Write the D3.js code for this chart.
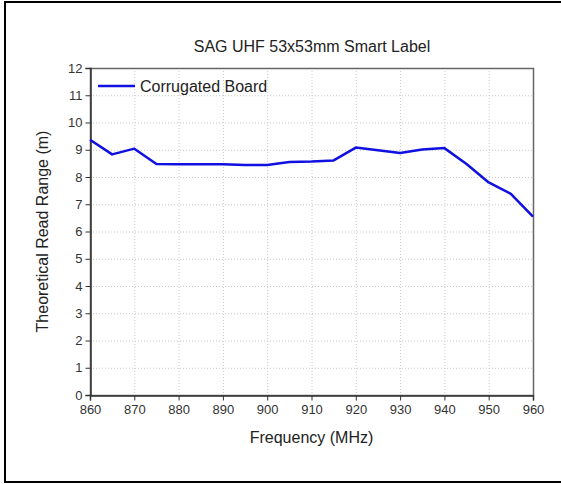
<!DOCTYPE html>
<html>
<head>
<meta charset="utf-8">
<script src="https://cdn.jsdelivr.net/npm/d3@7"></script>
<style>
  body { margin: 0; background: #fff; }
  svg { display: block; font-family: "Liberation Sans", Arial, sans-serif; }
</style>
</head>
<body>
<svg id="chart" width="561" height="484"></svg>
<script>
const frequencies = [860, 865, 870, 875, 880, 885, 890, 895, 900, 905, 910,
  915, 920, 925, 930, 935, 940, 945, 950, 955, 960];
const readRange = [9.37, 8.83, 9.04, 8.48, 8.47, 8.47, 8.47, 8.44, 8.44, 8.55, 8.57,
  8.61, 9.08, 8.98, 8.88, 9.01, 9.06, 8.48, 7.8, 7.38, 6.55];
const xTicks = [860, 870, 880, 890, 900, 910, 920, 930, 940, 950, 960];
const yTicks = [0, 1, 2, 3, 4, 5, 6, 7, 8, 9, 10, 11, 12];
const seriesName = "Corrugated Board";

const svg = d3.select("#chart");
const margin = { left: 90, right: 28, top: 68, bottom: 89 };
const width = 561, height = 484;

// outer frame (right edge is cropped in the original)
svg.append("path")
  .attr("d", "M565,2H5V482H565")
  .attr("fill", "none")
  .attr("stroke", "#000")
  .attr("stroke-width", 2);

const x = d3.scaleLinear().domain([860, 960]).range([margin.left, width - margin.right]);
const y = d3.scaleLinear().domain([0, 12]).range([height - margin.bottom, margin.top]);

// grid
const grid = svg.append("g").attr("stroke", "#c8c8c8").attr("stroke-dasharray", "1,2").attr("stroke-width", 1);
grid.selectAll("line.v").data(xTicks.slice(1, -1)).join("line")
  .attr("x1", d => x(d) + 0.5).attr("x2", d => x(d) + 0.5)
  .attr("y1", y(12)).attr("y2", y(0));
grid.selectAll("line.h").data(yTicks.slice(1, -1)).join("line")
  .attr("y1", d => y(d) + 0.5).attr("y2", d => y(d) + 0.5)
  .attr("x1", x(860)).attr("x2", x(960));

// plot box
svg.append("rect")
  .attr("x", x(860) + 0.5).attr("y", y(12) + 0.5)
  .attr("width", x(960) - x(860)).attr("height", y(0) - y(12))
  .attr("fill", "none").attr("stroke", "#666").attr("stroke-width", 1.5);

// axes
const xAxis = svg.append("g")
  .attr("transform", `translate(0,${y(0) + 0.5})`)
  .call(d3.axisBottom(x).tickValues(xTicks).tickSize(5).tickPadding(4));
const yAxis = svg.append("g")
  .attr("transform", `translate(${x(860) + 0.5},0)`)
  .call(d3.axisLeft(y).tickValues(yTicks).tickSize(5).tickPadding(3));

[xAxis, yAxis].forEach(g => {
  g.select(".domain").attr("stroke", "#333").attr("stroke-width", 1.5);
  g.selectAll(".tick line").attr("stroke", "#333");
  g.selectAll(".tick text").attr("fill", "#333").style("font-size", "13px")
    .style("font-family", "'Liberation Sans', Arial, sans-serif");
});

// series line
const line = d3.line()
  .x((d, i) => x(frequencies[i]))
  .y(d => y(d));
svg.append("path")
  .datum(readRange)
  .attr("d", line)
  .attr("fill", "none")
  .attr("stroke", "#1010e0")
  .attr("stroke-width", 2.5)
  .attr("stroke-linejoin", "round");

// legend
svg.append("line")
  .attr("x1", 98).attr("x2", 135).attr("y1", 86).attr("y2", 86)
  .attr("stroke", "#1010e0").attr("stroke-width", 2.5);
svg.append("text")
  .attr("x", 140).attr("y", 91.5)
  .attr("fill", "#222").style("font-size", "16px")
  .text(seriesName);

// title and axis labels
svg.append("text")
  .attr("x", 312).attr("y", 52)
  .attr("text-anchor", "middle").attr("fill", "#222").style("font-size", "16px")
  .text("SAG UHF 53x53mm Smart Label");
svg.append("text")
  .attr("x", (x(860) + x(960)) / 2).attr("y", 443)
  .attr("text-anchor", "middle").attr("fill", "#222").style("font-size", "16px")
  .text("Frequency (MHz)");
svg.append("text")
  .attr("transform", `translate(48,${(y(0) + y(12)) / 2}) rotate(-90)`)
  .attr("text-anchor", "middle").attr("fill", "#222").style("font-size", "16px")
  .text("Theoretical Read Range (m)");
</script>
</body>
</html>
